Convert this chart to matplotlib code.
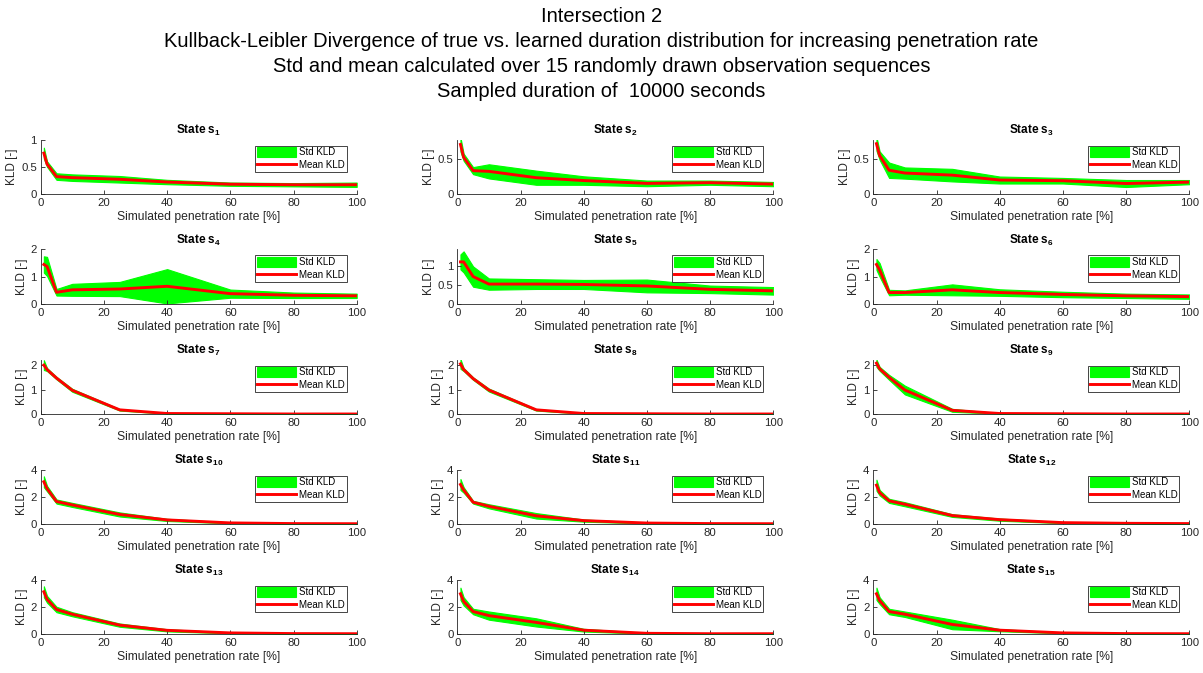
import numpy as np
import matplotlib
matplotlib.use('Agg')
from matplotlib import pyplot as plt

plt.rcParams['font.family'] = ['Liberation Sans', 'DejaVu Sans']
plt.rcParams['mathtext.fontset'] = 'custom'
plt.rcParams['mathtext.rm'] = 'Liberation Sans'
plt.rcParams['mathtext.bf'] = 'Liberation Sans:bold'

# penetration rates [%]
rates = [1, 2, 5, 10, 25, 40, 60, 80, 100]

# mean KLD per state (s1..s15)
mean_kld = [
    [0.75, 0.55, 0.32, 0.30, 0.27, 0.22, 0.18, 0.17, 0.17],
    [0.70, 0.52, 0.33, 0.32, 0.23, 0.19, 0.15, 0.16, 0.14],
    [0.72, 0.55, 0.34, 0.30, 0.27, 0.20, 0.19, 0.15, 0.17],
    [1.45, 1.38, 0.43, 0.52, 0.55, 0.65, 0.38, 0.32, 0.30],
    [1.12, 1.12, 0.73, 0.53, 0.53, 0.52, 0.48, 0.39, 0.35],
    [1.45, 1.25, 0.42, 0.42, 0.52, 0.42, 0.35, 0.30, 0.27],
    [2.00, 1.82, 1.47, 0.97, 0.17, 0.02, 0.01, 0.00, 0.00],
    [2.05, 1.82, 1.45, 0.98, 0.17, 0.02, 0.01, 0.00, 0.00],
    [2.08, 1.85, 1.50, 0.98, 0.15, 0.02, 0.01, 0.00, 0.00],
    [3.10, 2.60, 1.65, 1.40, 0.70, 0.30, 0.08, 0.03, 0.02],
    [2.90, 2.50, 1.60, 1.30, 0.60, 0.25, 0.07, 0.03, 0.02],
    [2.85, 2.30, 1.70, 1.45, 0.62, 0.32, 0.10, 0.05, 0.03],
    [3.10, 2.55, 1.80, 1.45, 0.65, 0.27, 0.08, 0.03, 0.02],
    [2.95, 2.40, 1.65, 1.35, 0.85, 0.28, 0.05, 0.02, 0.02],
    [2.95, 2.45, 1.65, 1.45, 0.70, 0.28, 0.08, 0.03, 0.02],
]

# std of KLD per state
std_kld = [
    [0.10, 0.05, 0.06, 0.06, 0.06, 0.04, 0.03, 0.03, 0.04],
    [0.10, 0.05, 0.05, 0.10, 0.10, 0.06, 0.04, 0.03, 0.03],
    [0.10, 0.06, 0.11, 0.08, 0.09, 0.05, 0.04, 0.05, 0.03],
    [0.30, 0.35, 0.12, 0.22, 0.26, 0.63, 0.15, 0.10, 0.08],
    [0.20, 0.28, 0.27, 0.15, 0.13, 0.12, 0.17, 0.10, 0.10],
    [0.20, 0.25, 0.10, 0.08, 0.20, 0.12, 0.10, 0.08, 0.08],
    [0.20, 0.06, 0.05, 0.06, 0.03, 0.01, 0.01, 0.00, 0.00],
    [0.20, 0.06, 0.05, 0.06, 0.03, 0.01, 0.01, 0.00, 0.00],
    [0.15, 0.08, 0.10, 0.18, 0.06, 0.01, 0.01, 0.00, 0.00],
    [0.40, 0.20, 0.15, 0.15, 0.15, 0.08, 0.03, 0.01, 0.01],
    [0.40, 0.20, 0.10, 0.15, 0.20, 0.08, 0.03, 0.01, 0.01],
    [0.40, 0.20, 0.15, 0.15, 0.10, 0.08, 0.04, 0.02, 0.01],
    [0.40, 0.25, 0.20, 0.15, 0.12, 0.08, 0.03, 0.01, 0.01],
    [0.45, 0.30, 0.20, 0.30, 0.30, 0.10, 0.03, 0.01, 0.01],
    [0.45, 0.25, 0.20, 0.20, 0.35, 0.08, 0.03, 0.01, 0.01],
]

# y axis upper limits and ticks per state
y_top = [1.0, 0.77, 0.78, 2.0, 1.45, 2.0, 2.23, 2.23, 2.23, 4, 4, 4, 4, 4, 4]
y_ticks = [[0, 0.5, 1], [0, 0.5], [0, 0.5], [0, 1, 2], [0, 0.5, 1], [0, 1, 2],
           [0, 1, 2], [0, 1, 2], [0, 1, 2], [0, 2, 4], [0, 2, 4], [0, 2, 4],
           [0, 2, 4], [0, 2, 4], [0, 2, 4]]

title_lines = [
    'Intersection 2',
    'Kullback-Leibler Divergence of true vs. learned duration distribution for increasing penetration rate',
    'Std and mean calculated over 15 randomly drawn observation sequences',
    'Sampled duration of  10000 seconds',
]

W, H = 1203, 673
fig = plt.figure(figsize=(W / 100, H / 100), dpi=100)

# title lines, baselines every 25 px
for k, line in enumerate(title_lines):
    fig.text(0.5, 1 - (21.7 + 25 * k) / H, line, ha='center', va='baseline',
             fontsize=14.5, color='black')

col_left = [40.7, 457.3, 873.3]
row_bottom = [194, 304, 414, 524, 634]
ax_w, ax_h = 316, 54.5
gray = '#262626'

for i in range(15):
    r, c = divmod(i, 3)
    ax = fig.add_axes([col_left[c] / W, (H - row_bottom[r]) / H, ax_w / W, ax_h / H])
    m = np.array(mean_kld[i])
    s = np.array(std_kld[i])
    ax.fill_between(rates, m - s, m + s, color='#00ff00', edgecolor='#00ff00',
                    lw=0.8, label='Std KLD')
    ax.plot(rates, m, color='#ff0000', lw=2.1, label='Mean KLD')
    ax.set_xlim(0, 100)
    ax.set_ylim(0, y_top[i])
    ax.set_xticks([0, 20, 40, 60, 80, 100])
    ax.set_yticks(y_ticks[i])
    ax.set_yticklabels([('%g' % t) for t in y_ticks[i]])
    for sp in ['top', 'right']:
        ax.spines[sp].set_visible(False)
    for sp in ['left', 'bottom']:
        ax.spines[sp].set_color(gray)
        ax.spines[sp].set_linewidth(0.6)
    ax.tick_params(direction='in', length=3, width=0.6, colors=gray,
                   labelsize=8.2, pad=2.8)
    ax.set_xlabel('Simulated penetration rate [%]', fontsize=8.7, color=gray, labelpad=2.2)
    ax.set_ylabel('KLD [-]', fontsize=8.5, color=gray, labelpad=2)
    ax.set_title(r'State $\mathbf{s}_{\mathbf{%d}}$' % (i + 1), fontsize=8.5,
                 fontweight='bold', pad=4)
    leg = ax.legend(loc='upper right', bbox_to_anchor=(1 - 10 / ax_w, 1 - 6 / ax_h),
                    borderaxespad=0, fontsize=7, frameon=True, fancybox=False,
                    handlelength=4.0, handleheight=1.1, handletextpad=0.3,
                    borderpad=0.2, labelspacing=0.25)
    leg.get_frame().set_edgecolor(gray)
    leg.get_frame().set_linewidth(0.6)
    leg.get_frame().set_alpha(1)

fig.savefig('out.png', dpi=100)
